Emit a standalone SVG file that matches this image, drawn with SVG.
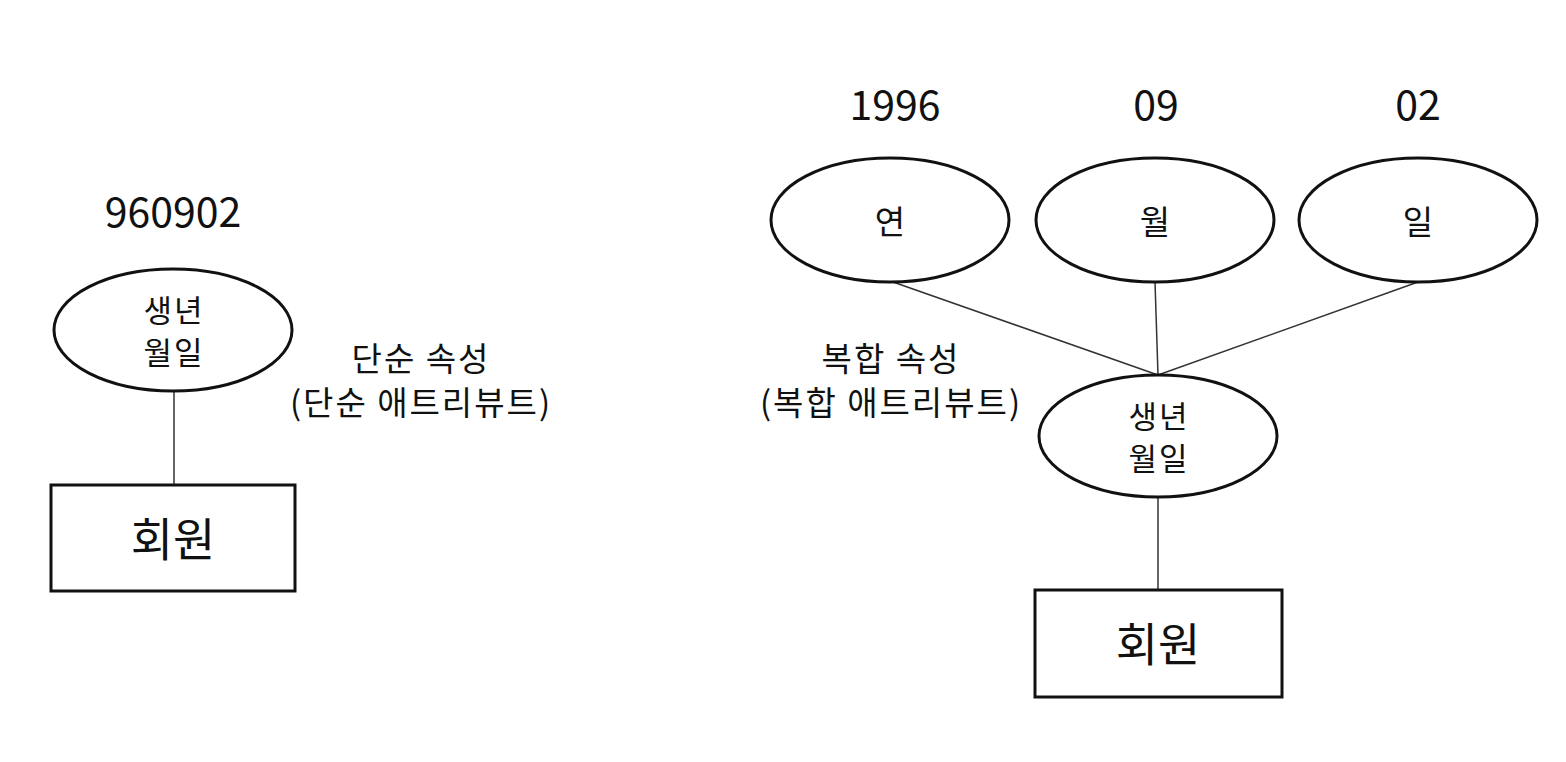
<svg xmlns="http://www.w3.org/2000/svg" width="1566" height="762" viewBox="0 0 1566 762">
<style>
text{font-family:"Noto Sans CJK KR","Noto Sans",sans-serif;fill:#111;text-anchor:middle;dominant-baseline:central}
.shape{fill:#fff;stroke:#111;stroke-width:3}
.conn{stroke:#333;stroke-width:1.5;fill:none}
.num{font-size:41px}
.lbl{font-size:33px;letter-spacing:2px}
.ent{font-size:46px}
.attr{font-size:31px;letter-spacing:2px}
.one{font-size:33px}
</style>
<rect width="1566" height="762" fill="#fff"/>
<g id="connectors">
<line class="conn" x1="174" y1="391" x2="174" y2="485"/>
<line class="conn" x1="893" y1="282" x2="1158" y2="375"/>
<line class="conn" x1="1155" y1="282" x2="1158" y2="375"/>
<line class="conn" x1="1418" y1="282" x2="1158" y2="375"/>
<line class="conn" x1="1158" y1="497" x2="1158" y2="590"/>
</g>
<g id="left-value"><text class="num" x="173" y="209">960902</text></g>
<g id="left-attr">
<ellipse class="shape" cx="173" cy="330" rx="119" ry="61"/>
<text class="attr" x="174" y="308">생년</text>
<text class="attr" x="174" y="350">월일</text>
</g>
<g id="left-entity">
<rect class="shape" x="51" y="485" width="244" height="106"/>
<text class="ent" x="173" y="536">회원</text>
</g>
<g id="left-label">
<text class="lbl" x="421" y="357">단순 속성</text>
<text class="lbl" x="421" y="401">(단순 애트리뷰트)</text>
</g>
<g id="year-value"><text class="num" x="895" y="102">1996</text></g>
<g id="month-value"><text class="num" x="1156" y="102">09</text></g>
<g id="day-value"><text class="num" x="1418" y="102">02</text></g>
<g id="year">
<ellipse class="shape" cx="890" cy="220" rx="119" ry="62"/>
<text class="one" x="890" y="220">연</text>
</g>
<g id="month">
<ellipse class="shape" cx="1155" cy="220" rx="119" ry="62"/>
<text class="one" x="1155" y="220">월</text>
</g>
<g id="day">
<ellipse class="shape" cx="1418" cy="220" rx="119" ry="62"/>
<text class="one" x="1418" y="220">일</text>
</g>
<g id="right-label">
<text class="lbl" x="891" y="357">복합 속성</text>
<text class="lbl" x="891" y="401">(복합 애트리뷰트)</text>
</g>
<g id="right-attr">
<ellipse class="shape" cx="1158" cy="436" rx="119" ry="61"/>
<text class="attr" x="1159" y="414">생년</text>
<text class="attr" x="1159" y="456">월일</text>
</g>
<g id="right-entity">
<rect class="shape" x="1035" y="590" width="247" height="107"/>
<text class="ent" x="1158" y="641">회원</text>
</g>
</svg>
